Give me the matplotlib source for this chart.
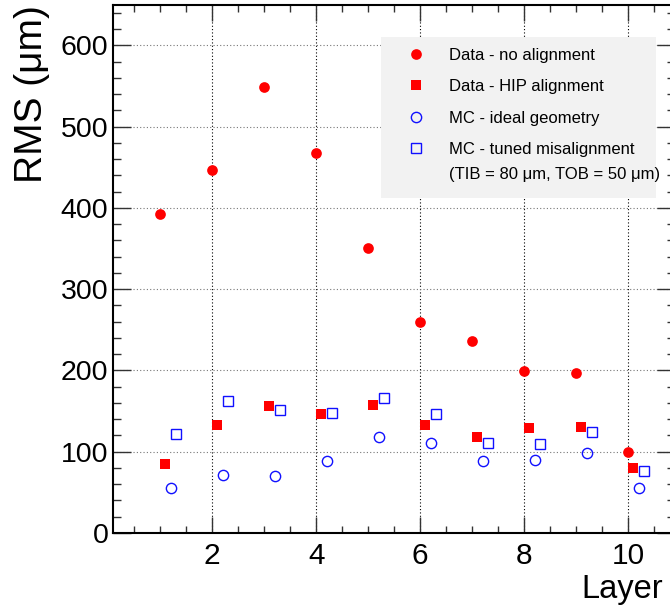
import matplotlib
matplotlib.use("Agg")
import matplotlib.pyplot as plt
from matplotlib.patches import Rectangle
import numpy as np

plt.rcParams['font.family'] = ['Liberation Sans', 'DejaVu Sans']

layers = [1, 2, 3, 4, 5, 6, 7, 8, 9, 10]
data_noalign = [392, 447, 549, 467, 351, 260, 236, 199, 197, 100]
data_hip = [85, 133, 156, 147, 157, 133, 118, 129, 130, 80]
mc_ideal = [55, 71, 70, 88, 118, 111, 89, 90, 98, 55]
mc_tuned = [122, 162, 151, 148, 166, 147, 111, 109, 124, 76]
offsets = [0.0, 0.1, 0.2, 0.3]
labels = ["Data - no alignment", "Data - HIP alignment",
          "MC - ideal geometry", "MC - tuned misalignment"]
note = "(TIB = 80 \u03bcm, TOB = 50 \u03bcm)"

W, H = 670, 610
fig = plt.figure(figsize=(W / 100, H / 100), dpi=100)
L, R, T, B = 113.3, 675.0, 4.7, 533.0
ax = fig.add_axes([L / W, (H - B) / H, (R - L) / W, (B - T) / H])
ax.set_axisbelow(True)

x = np.array(layers, dtype=float)
red = '#ff0000'
blue = '#1010ff'
h1, = ax.plot(x + offsets[0], data_noalign, 'o', color=red, ms=7.7, mew=0, zorder=3)
h2, = ax.plot(x + offsets[1], data_hip, 's', color=red, ms=7.6, mew=0, zorder=3)
h3, = ax.plot(x + offsets[2], mc_ideal, 'o', mfc='none', mec=blue, ms=7.4, mew=1.0, zorder=4)
h4, = ax.plot(x + offsets[3], mc_tuned, 's', mfc='none', mec=blue, ms=7.4, mew=1.0, zorder=4)

ax.set_xlim(0.1, 10.9)
ax.set_ylim(0, 650)
ax.set_xticks([2, 4, 6, 8, 10])
ax.set_xticks(np.arange(0.5, 10.9, 0.5), minor=True)
ax.set_yticks([0, 100, 200, 300, 400, 500, 600])
ax.set_yticks(np.arange(0, 651, 20), minor=True)

ax.tick_params(axis='both', which='both', direction='in', top=True, right=True, width=1.0, color='#333333')
ax.tick_params(axis='x', which='major', length=11.5, labelsize=21.5, pad=6.5)
ax.tick_params(axis='x', which='minor', length=5.0)
ax.tick_params(axis='y', which='major', length=13, labelsize=20.5, pad=3.5)
ax.tick_params(axis='y', which='minor', length=5.8)
for s in ax.spines.values():
    s.set_linewidth(1.5)

ax.grid(True, axis='x', which='major', color='black', linestyle=(0, (1, 2)), linewidth=0.8)
ax.grid(True, axis='y', which='major', color='#777777', linestyle=(0, (1, 2)), linewidth=0.8)

ax.set_xlabel('Layer', fontsize=23.5, loc='right')
ax.xaxis.set_label_coords((663 - L) / (R - L), (B - 574) / (B - T))
ax.xaxis.label.set_va('top')
ax.set_ylabel('RMS (\u03bcm)', fontsize=28, loc='top')
ax.yaxis.set_label_coords((50 - L) / (R - L), (B - 5) / (B - T))

def axc(px, py):
    return (px - L) / (R - L), (B - py) / (B - T)

rx0, ry0 = axc(381, 198)
rx1, ry1 = axc(656, 37)
ax.add_patch(Rectangle((rx0, ry0), rx1 - rx0, ry1 - ry0, transform=ax.transAxes,
                       facecolor='#f2f2f2', edgecolor='none', zorder=1))

lx, ly = axc(407.4, 47.8)
leg = ax.legend([h1, h2, h3, h4], labels, loc='upper left', bbox_to_anchor=(lx, ly),
                frameon=False, fontsize=12, borderpad=0, borderaxespad=0,
                handlelength=1.0, handletextpad=1.49, labelspacing=0.99,
                numpoints=1, markerscale=1.0)
leg.set_zorder(5)

tx, ty = axc(449, 174)
ax.text(tx, ty, note, transform=ax.transAxes, fontsize=12, ha='left', va='center', zorder=6)

fig.savefig('out.png', dpi=100)
